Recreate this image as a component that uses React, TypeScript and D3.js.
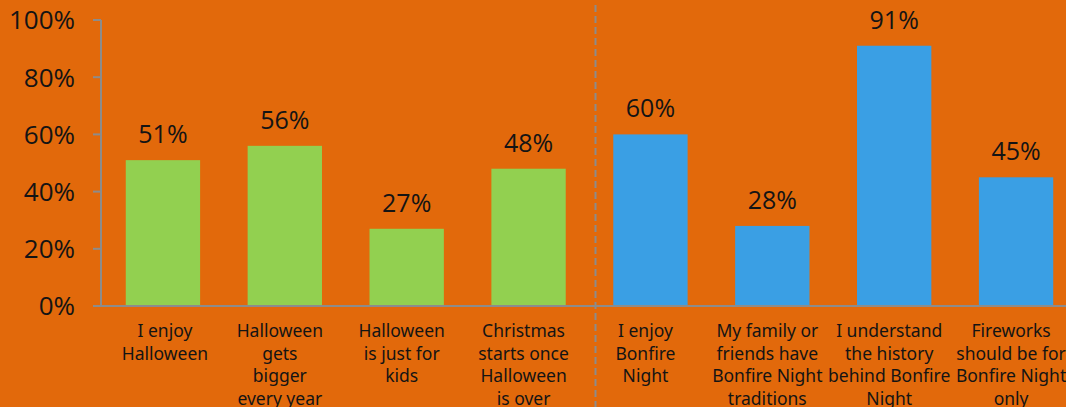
import React, { useEffect, useRef } from "react";
import * as d3 from "d3";

const categories: string[][] = [
  ["I enjoy", "Halloween"],
  ["Halloween", "gets", "bigger", "every year"],
  ["Halloween", "is just for", "kids"],
  ["Christmas", "starts once", "Halloween", "is over"],
  ["I enjoy", "Bonfire", "Night"],
  ["My family or", "friends have", "Bonfire Night", "traditions"],
  ["I understand", "the history", "behind Bonfire", "Night"],
  ["Fireworks", "should be for", "Bonfire Night", "only"],
];
const values = [51, 56, 27, 48, 60, 28, 91, 45];
const groups = ["halloween", "halloween", "halloween", "halloween", "bonfire", "bonfire", "bonfire", "bonfire"];
const yTicks = [0, 20, 40, 60, 80, 100];

const W = 1066;
const H = 407;
const BG = "#E2690B";
const GREEN = "#92D050";
const BLUE = "#3A9FE4";
const AXIS = "#8C8C8C";
const TEXT = "#141414";

export default function App() {
  const ref = useRef<SVGSVGElement>(null);
  useEffect(() => {
    const svg = d3.select(ref.current);
    svg.selectAll("*").remove();
    const ids = categories.map((_, i) => String(i));
    const x = d3.scaleBand<string>().domain(ids).range([102, 1077]).paddingInner(0.39).paddingOuter(0.195);
    const y = d3.scaleLinear().domain([0, 100]).range([306, 20]);
    const color = d3.scaleOrdinal<string, string>().domain(["halloween", "bonfire"]).range([GREEN, BLUE]);

    svg.append("rect").attr("width", W).attr("height", H).attr("fill", BG);

    // y axis
    const axisX = 101;
    svg.append("line").attr("x1", axisX).attr("x2", axisX).attr("y1", y(100)).attr("y2", y(0))
      .attr("stroke", AXIS).attr("stroke-width", 2);
    const tg = svg.append("g");
    yTicks.forEach((t) => {
      tg.append("line").attr("x1", 93).attr("x2", axisX).attr("y1", y(t)).attr("y2", y(t))
        .attr("stroke", AXIS).attr("stroke-width", 2);
      tg.append("text").attr("x", 75).attr("y", y(t)).attr("dy", "0.36em")
        .attr("text-anchor", "end").attr("font-family", "'Open Sans', sans-serif")
        .attr("font-size", 26).attr("fill", TEXT).text(`${t}%`);
    });

    // bars
    svg.append("g").selectAll("rect").data(values).join("rect")
      .attr("x", (_, i) => x(ids[i])!)
      .attr("width", x.bandwidth())
      .attr("y", (d) => y(d))
      .attr("height", (d) => y(0) - y(d))
      .attr("fill", (_, i) => color(groups[i]));

    // value labels
    svg.append("g").selectAll("text").data(values).join("text")
      .attr("x", (_, i) => x(ids[i])! + x.bandwidth() / 2)
      .attr("y", (d) => y(d) - 17)
      .attr("text-anchor", "middle")
      .attr("font-family", "'Open Sans', sans-serif")
      .attr("font-size", 25).attr("fill", TEXT)
      .text((d) => `${d}%`);

    // x axis line
    svg.append("line").attr("x1", 93).attr("x2", W).attr("y1", y(0)).attr("y2", y(0))
      .attr("stroke", AXIS).attr("stroke-width", 2);

    // category labels
    const lg = svg.append("g");
    categories.forEach((lines, i) => {
      const cx = x(ids[i])! + x.bandwidth() / 2 - (i === 0 ? -2 : 5);
      const t = lg.append("text").attr("text-anchor", "middle")
        .attr("font-family", "'Noto Sans', sans-serif")
        .attr("font-size", 17.5).attr("fill", TEXT);
      lines.forEach((ln, j) => {
        t.append("tspan").attr("x", cx).attr("y", 337 + j * 22.7).text(ln);
      });
    });

    // dashed separator
    const sepX = x(ids[4])! - (x.step() * x.paddingInner()) / 2 + 6;
    svg.append("line").attr("x1", sepX).attr("x2", sepX).attr("y1", 5).attr("y2", H)
      .attr("stroke", AXIS).attr("stroke-width", 2).attr("stroke-dasharray", "7,4");
  }, []);

  return (
    <div style={{ position: "fixed", left: 0, top: 0, width: W, height: H }}>
      <svg ref={ref} width={W} height={H} style={{ display: "block" }} />
    </div>
  );
}
